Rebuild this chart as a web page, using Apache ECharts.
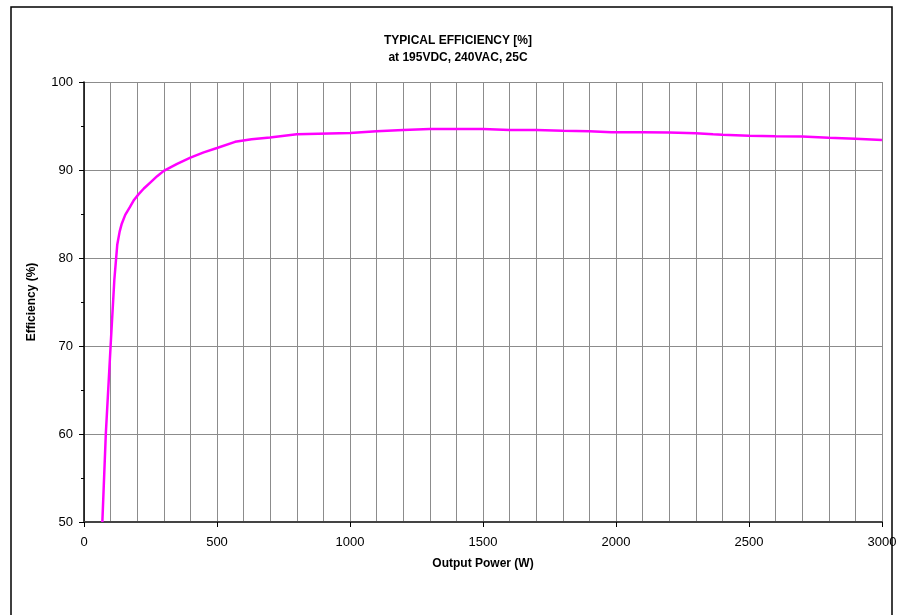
<!DOCTYPE html>
<html>
<head>
<meta charset="utf-8">
<script src="https://cdn.jsdelivr.net/npm/echarts@6/dist/echarts.min.js"></script>
<style>
html,body{margin:0;padding:0;background:#fff;}
#chart{width:900px;height:615px;}
</style>
</head>
<body>
<div id="chart"></div>
<script>
// Output power (W)
var powerW = [69, 82, 100, 114, 125, 134, 142, 155, 173, 188, 204, 225, 250, 275, 300, 325, 350, 400, 450, 500, 568, 630, 699, 800, 1000, 1100, 1200, 1300, 1500, 1600, 1700, 1800, 1900, 1983, 2100, 2200, 2300, 2365, 2400, 2500, 2600, 2700, 2800, 2900, 3000];
// Efficiency (%)
var efficiency = [50, 60, 70, 77.5, 81.5, 83.0, 83.9, 84.9, 85.8, 86.6, 87.2, 87.9, 88.6, 89.3, 89.9, 90.3, 90.7, 91.4, 92.0, 92.5, 93.2, 93.5, 93.7, 94.05, 94.2, 94.4, 94.55, 94.65, 94.65, 94.55, 94.55, 94.45, 94.4, 94.3, 94.3, 94.25, 94.17, 94.05, 94.0, 93.9, 93.83, 93.8, 93.67, 93.56, 93.4];
var titleLines = ['TYPICAL EFFICIENCY [%]', 'at 195VDC, 240VAC, 25C'];
var xAxisTitle = 'Output Power (W)';
var yAxisTitle = 'Efficiency (%)';

var seriesData = powerW.map(function (p, i) { return [p, efficiency[i]]; });

var chart = echarts.init(document.getElementById('chart'), null, {renderer: 'canvas'});
var font = 'Liberation Sans, Arial, Helvetica, sans-serif';
chart.setOption({
  animation: false,
  backgroundColor: '#ffffff',
  textStyle: {fontFamily: font},
  title: {
    text: titleLines.join('\n'),
    left: 453,
    top: 27,
    textAlign: 'center',
    textStyle: {fontFamily: font, fontSize: 12, fontWeight: 'bold', color: '#000', lineHeight: 17}
  },
  graphic: [{
    type: 'rect',
    shape: {x: 11, y: 7, width: 881, height: 700},
    style: {fill: 'none', stroke: '#000', lineWidth: 1.5},
    silent: true,
    z: -1
  }],
  grid: {left: 84, right: 18, top: 82, bottom: 93, containLabel: false},
  xAxis: {
    type: 'value',
    min: 0, max: 3000, interval: 500,
    name: xAxisTitle,
    nameLocation: 'middle',
    nameGap: 36,
    nameTextStyle: {fontFamily: font, fontSize: 12, fontWeight: 'bold', color: '#000'},
    axisLine: {show: true, onZero: false, lineStyle: {color: '#444', width: 2}},
    axisTick: {show: true, length: 5, lineStyle: {color: '#000'}},
    axisLabel: {fontFamily: font, fontSize: 13, color: '#000', margin: 14,
      formatter: function (v) { return String(v); }},
    splitLine: {show: true, lineStyle: {color: '#8c8c8c', width: 1}},
    minorTick: {show: false, splitNumber: 5},
    minorSplitLine: {show: true, lineStyle: {color: '#8c8c8c', width: 1}}
  },
  yAxis: {
    type: 'value',
    min: 50, max: 100, interval: 10,
    name: yAxisTitle,
    nameLocation: 'middle',
    nameGap: 46,
    nameTextStyle: {fontFamily: font, fontSize: 12, fontWeight: 'bold', color: '#000'},
    axisLine: {show: true, lineStyle: {color: '#000', width: 1.5}},
    axisTick: {show: true, length: 5, lineStyle: {color: '#000'}},
    minorTick: {show: true, splitNumber: 2, length: 3, lineStyle: {color: '#000'}},
    axisLabel: {fontFamily: font, fontSize: 13, color: '#000', margin: 11,
      formatter: function (v) { return String(v); }},
    splitLine: {show: true, lineStyle: {color: '#8c8c8c', width: 1}}
  },
  series: [{
    type: 'line',
    data: seriesData,
    showSymbol: false,
    smooth: false,
    clip: true,
    lineStyle: {color: '#ff00ff', width: 2.5},
    itemStyle: {color: '#ff00ff'}
  }]
});
</script>
</body>
</html>
